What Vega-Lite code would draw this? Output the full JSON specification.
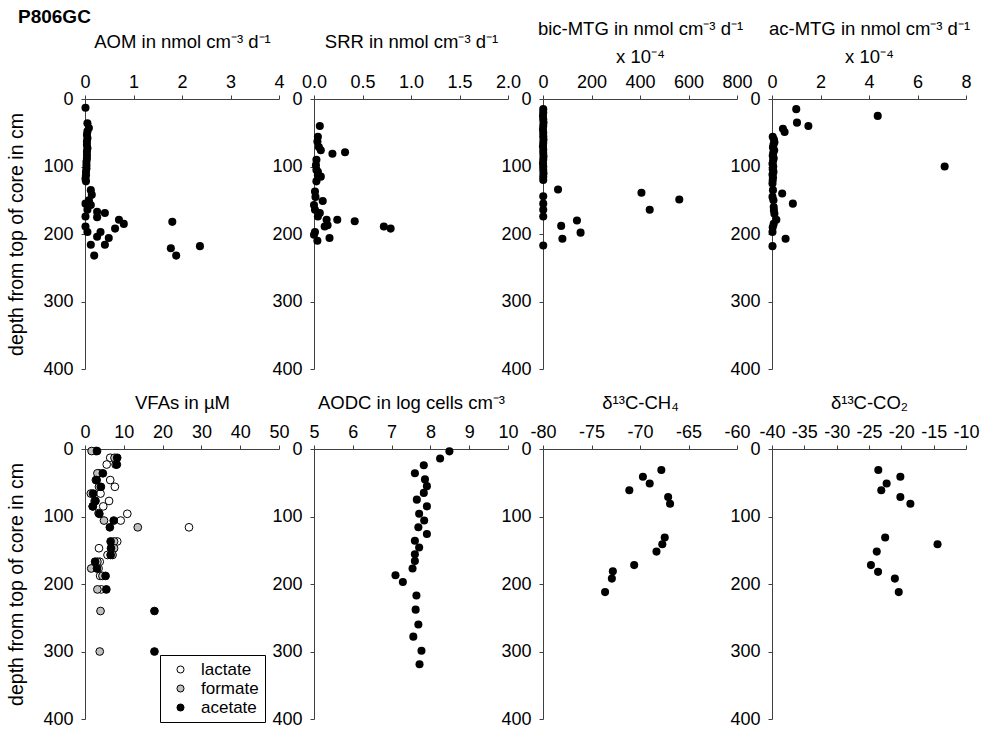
{
"$schema": "https://vega.github.io/schema/vega-lite/v6.json",
"padding": {"left": 6, "top": 8, "right": 5, "bottom": 5},
"title": {"text": "P806GC", "anchor": "start", "frame": "group", "dx": -67, "offset": -8, "fontSize": 19, "fontWeight": "bold", "font": "Liberation Sans", "color": "#000"},
"datasets": {
"aom": [{"d":13,"v":0.01},{"d":36,"v":0.05},{"d":43,"v":0.08},{"d":48,"v":0.05},{"d":53,"v":0.04},{"d":58,"v":0.05},{"d":63,"v":0.04},{"d":68,"v":0.04},{"d":73,"v":0.05},{"d":78,"v":0.04},{"d":83,"v":0.04},{"d":88,"v":0.04},{"d":93,"v":0.03},{"d":98,"v":0.03},{"d":103,"v":0.03},{"d":108,"v":0.02},{"d":113,"v":0.02},{"d":118,"v":0.01},{"d":122,"v":0.02},{"d":135,"v":0.12},{"d":142,"v":0.14},{"d":150,"v":0.08},{"d":155,"v":0.01},{"d":157,"v":0.12},{"d":164,"v":0.05},{"d":167,"v":0.25},{"d":169,"v":0.41},{"d":174,"v":0.01},{"d":175,"v":0.25},{"d":179,"v":0.70},{"d":185,"v":0.80},{"d":192,"v":0.62},{"d":189,"v":0.01},{"d":197,"v":0.05},{"d":197,"v":0.32},{"d":204,"v":0.25},{"d":206,"v":0.49},{"d":216,"v":0.12},{"d":216,"v":0.41},{"d":232,"v":0.19},{"d":182,"v":1.80},{"d":221,"v":1.77},{"d":218,"v":2.37},{"d":232,"v":1.88}],
"srr": [{"d":40,"v":0.06},{"d":56,"v":0.04},{"d":63,"v":0.035},{"d":71,"v":0.05},{"d":76,"v":0.07},{"d":81,"v":0.19},{"d":79,"v":0.32},{"d":90,"v":0.025},{"d":98,"v":0.02},{"d":105,"v":0.025},{"d":108,"v":0.04},{"d":113,"v":0.04},{"d":115,"v":0.07},{"d":122,"v":0.025},{"d":137,"v":0.01},{"d":145,"v":0.015},{"d":151,"v":0.09},{"d":157,"v":0.0},{"d":164,"v":0.01},{"d":169,"v":0.06},{"d":174,"v":0.04},{"d":179,"v":0.13},{"d":179,"v":0.24},{"d":181,"v":0.42},{"d":187,"v":0.14},{"d":189,"v":0.11},{"d":189,"v":0.72},{"d":192,"v":0.79},{"d":197,"v":0.01},{"d":201,"v":0.0},{"d":206,"v":0.16},{"d":210,"v":0.035}],
"bic": [{"d":15,"v":1},{"d":20,"v":1},{"d":25,"v":0},{"d":30,"v":1},{"d":35,"v":2},{"d":40,"v":1},{"d":45,"v":0},{"d":50,"v":1},{"d":55,"v":1},{"d":60,"v":2},{"d":65,"v":1},{"d":70,"v":0},{"d":75,"v":1},{"d":80,"v":1},{"d":85,"v":2},{"d":90,"v":1},{"d":95,"v":0},{"d":100,"v":1},{"d":105,"v":1},{"d":110,"v":2},{"d":115,"v":1},{"d":120,"v":1},{"d":134,"v":62},{"d":144,"v":1},{"d":155,"v":1},{"d":164,"v":1},{"d":174,"v":1},{"d":139,"v":406},{"d":149,"v":562},{"d":164,"v":440},{"d":180,"v":140},{"d":188,"v":75},{"d":198,"v":155},{"d":207,"v":80},{"d":217,"v":1}],
"ac": [{"d":15,"v":1.0},{"d":25,"v":4.36},{"d":35,"v":1.03},{"d":40,"v":1.5},{"d":44,"v":0.45},{"d":49,"v":0.52},{"d":56,"v":0.03},{"d":60,"v":0.08},{"d":64,"v":0.1},{"d":68,"v":0.06},{"d":72,"v":0.04},{"d":76,"v":0.09},{"d":80,"v":0.05},{"d":84,"v":0.03},{"d":88,"v":0.07},{"d":92,"v":0.04},{"d":96,"v":0.02},{"d":100,"v":0.05},{"d":104,"v":0.03},{"d":108,"v":0.06},{"d":112,"v":0.02},{"d":116,"v":0.04},{"d":120,"v":0.03},{"d":125,"v":0.02},{"d":100,"v":7.12},{"d":135,"v":0.04},{"d":140,"v":0.42},{"d":145,"v":0.02},{"d":150,"v":0.06},{"d":155,"v":0.86},{"d":160,"v":0.07},{"d":165,"v":0.08},{"d":170,"v":0.1},{"d":179,"v":0.18},{"d":185,"v":0.07},{"d":190,"v":0.03},{"d":197,"v":0.02},{"d":207,"v":0.56},{"d":218,"v":0.02}],
"vfa": [{"s":"lactate","d":3,"v":2.8},{"s":"lactate","d":13,"v":6.5},{"s":"lactate","d":23,"v":5.6},{"s":"lactate","d":36,"v":3.6},{"s":"lactate","d":46,"v":6.5},{"s":"lactate","d":56,"v":7.7},{"s":"lactate","d":66,"v":4.0},{"s":"lactate","d":77,"v":6.2},{"s":"lactate","d":85,"v":4.7},{"s":"lactate","d":96,"v":10.9},{"s":"lactate","d":106,"v":9.2},{"s":"lactate","d":116,"v":26.8},{"s":"lactate","d":137,"v":8.3},{"s":"lactate","d":147,"v":3.6},{"s":"lactate","d":157,"v":5.8},{"s":"lactate","d":167,"v":3.8},{"s":"lactate","d":177,"v":3.5},{"s":"lactate","d":188,"v":3.9},{"s":"lactate","d":208,"v":4.2},
{"s":"formate","d":3,"v":1.7},{"s":"formate","d":13,"v":7.6},{"s":"formate","d":23,"v":7.9},{"s":"formate","d":36,"v":3.2},{"s":"formate","d":46,"v":2.8},{"s":"formate","d":56,"v":3.6},{"s":"formate","d":66,"v":1.5},{"s":"formate","d":77,"v":2.5},{"s":"formate","d":85,"v":2.0},{"s":"formate","d":95,"v":3.5},{"s":"formate","d":106,"v":4.9},{"s":"formate","d":116,"v":13.6},{"s":"formate","d":137,"v":7.5},{"s":"formate","d":147,"v":7.5},{"s":"formate","d":157,"v":7.1},{"s":"formate","d":167,"v":3.2},{"s":"formate","d":177,"v":1.6},{"s":"formate","d":188,"v":4.5},{"s":"formate","d":208,"v":3.2},{"s":"formate","d":240,"v":4.0},{"s":"formate","d":300,"v":3.8},
{"s":"acetate","d":3,"v":3.1},{"s":"acetate","d":13,"v":8.3},{"s":"acetate","d":23,"v":8.2},{"s":"acetate","d":36,"v":4.6},{"s":"acetate","d":46,"v":3.0},{"s":"acetate","d":56,"v":4.1},{"s":"acetate","d":66,"v":2.1},{"s":"acetate","d":77,"v":2.7},{"s":"acetate","d":85,"v":2.0},{"s":"acetate","d":96,"v":3.7},{"s":"acetate","d":106,"v":7.4},{"s":"acetate","d":116,"v":6.4},{"s":"acetate","d":137,"v":6.6},{"s":"acetate","d":147,"v":6.7},{"s":"acetate","d":157,"v":6.6},{"s":"acetate","d":167,"v":2.6},{"s":"acetate","d":177,"v":3.1},{"s":"acetate","d":188,"v":5.3},{"s":"acetate","d":208,"v":5.5},{"s":"acetate","d":240,"v":17.9},{"s":"acetate","d":300,"v":17.9}],
"aodc": [{"d":3.5,"v":8.49},{"d":14,"v":8.25},{"d":24,"v":7.83},{"d":36,"v":7.6},{"d":45,"v":7.86},{"d":55,"v":7.91},{"d":65,"v":7.83},{"d":75,"v":7.65},{"d":85,"v":7.91},{"d":96,"v":7.71},{"d":106,"v":7.84},{"d":116,"v":7.69},{"d":126,"v":7.91},{"d":136,"v":7.6},{"d":146,"v":7.71},{"d":156,"v":7.6},{"d":166,"v":7.6},{"d":177,"v":7.54},{"d":187,"v":7.1},{"d":197,"v":7.29},{"d":217,"v":7.64},{"d":238,"v":7.62},{"d":260,"v":7.69},{"d":278,"v":7.56},{"d":299,"v":7.77},{"d":319,"v":7.72}],
"ch4": [{"d":31,"v":-67.8},{"d":41,"v":-69.7},{"d":51,"v":-69.0},{"d":61,"v":-71.1},{"d":71,"v":-67.1},{"d":81,"v":-66.9},{"d":131,"v":-67.45},{"d":141,"v":-67.7},{"d":152,"v":-68.3},{"d":172,"v":-70.6},{"d":181,"v":-72.8},{"d":192,"v":-72.9},{"d":212,"v":-73.6}],
"co2": [{"d":31,"v":-23.56},{"d":41,"v":-20.15},{"d":51,"v":-22.27},{"d":61,"v":-23.1},{"d":71,"v":-20.15},{"d":81,"v":-18.6},{"d":131,"v":-22.5},{"d":141,"v":-14.4},{"d":152,"v":-23.8},{"d":172,"v":-24.7},{"d":182,"v":-23.6},{"d":192,"v":-21.0},{"d":212,"v":-20.4}]
},
"concat": [
{"width": 194, "height": 270, "data": {"name": "aom"},
 "mark": {"type": "circle", "size": 65, "color": "#000", "opacity": 1},
 "encoding": {
  "x": {"field": "v", "type": "quantitative", "scale": {"domain": [0, 4], "nice": false, "zero": false}, "axis": {"orient": "top", "values": [0,1,2,3,4], "title": "AOM in nmol cm⁻³ d⁻¹", "titlePadding": 22}},
  "y": {"field": "d", "type": "quantitative", "scale": {"domain": [0, 400], "reverse": true, "nice": false}, "axis": {"values": [0,100,200,300,400], "title": "depth from top of core in cm", "titlePadding": 16, "titleFontSize": 19.5}}}},
{"width": 194, "height": 270, "data": {"name": "srr"},
 "mark": {"type": "circle", "size": 65, "color": "#000", "opacity": 1},
 "encoding": {
  "x": {"field": "v", "type": "quantitative", "scale": {"domain": [0, 2], "nice": false, "zero": false}, "axis": {"orient": "top", "values": [0,0.5,1,1.5,2], "format": ".1f", "title": "SRR in nmol cm⁻³ d⁻¹", "titlePadding": 22}},
  "y": {"field": "d", "type": "quantitative", "scale": {"domain": [0, 400], "reverse": true, "nice": false}, "axis": {"values": [0,100,200,300,400], "title": null}}}},
{"width": 194, "height": 270, "data": {"name": "bic"},
 "mark": {"type": "circle", "size": 65, "color": "#000", "opacity": 1},
 "encoding": {
  "x": {"field": "v", "type": "quantitative", "scale": {"domain": [0, 800], "nice": false, "zero": false}, "axis": {"orient": "top", "values": [0,200,400,600,800], "title": ["bic-MTG in nmol cm⁻³ d⁻¹", "x 10⁻⁴"], "titlePadding": 7, "titleLineHeight": 28}},
  "y": {"field": "d", "type": "quantitative", "scale": {"domain": [0, 400], "reverse": true, "nice": false}, "axis": {"values": [0,100,200,300,400], "title": null}}}},
{"width": 194, "height": 270, "data": {"name": "ac"},
 "mark": {"type": "circle", "size": 65, "color": "#000", "opacity": 1},
 "encoding": {
  "x": {"field": "v", "type": "quantitative", "scale": {"domain": [0, 8], "nice": false, "zero": false}, "axis": {"orient": "top", "values": [0,2,4,6,8], "title": ["ac-MTG in nmol cm⁻³ d⁻¹", "x 10⁻⁴"], "titlePadding": 7, "titleLineHeight": 28}},
  "y": {"field": "d", "type": "quantitative", "scale": {"domain": [0, 400], "reverse": true, "nice": false}, "axis": {"values": [0,100,200,300,400], "title": null}}}},
{"width": 194, "height": 270, "data": {"name": "vfa"},
 "mark": {"type": "circle", "size": 60, "stroke": "#000", "strokeWidth": 1, "opacity": 1},
 "encoding": {
  "x": {"field": "v", "type": "quantitative", "scale": {"domain": [0, 50], "nice": false, "zero": false}, "axis": {"orient": "top", "values": [0,10,20,30,40,50], "title": "VFAs in µM", "titlePadding": 11}},
  "y": {"field": "d", "type": "quantitative", "scale": {"domain": [0, 400], "reverse": true, "nice": false}, "axis": {"values": [0,100,200,300,400], "title": "depth from top of core in cm", "titlePadding": 16, "titleFontSize": 19.5}},
  "fill": {"field": "s", "type": "nominal", "scale": {"domain": ["lactate", "formate", "acetate"], "range": ["#ffffff", "#c0c0c0", "#000000"]},
   "legend": {"orient": "none", "legendX": 75, "legendY": 206, "title": null, "strokeColor": "#000", "fillColor": "#fff", "padding": 6, "symbolOffset": 6, "labelOffset": 12, "labelFontSize": 17, "labelFont": "Liberation Sans", "labelColor": "#000", "symbolSize": 50, "symbolType": "circle", "symbolStrokeColor": "#000", "symbolStrokeWidth": 1, "rowPadding": 1, "cornerRadius": 0}}}},
{"width": 194, "height": 270, "data": {"name": "aodc"},
 "mark": {"type": "circle", "size": 65, "color": "#000", "opacity": 1},
 "encoding": {
  "x": {"field": "v", "type": "quantitative", "scale": {"domain": [5, 10], "nice": false, "zero": false}, "axis": {"orient": "top", "values": [5,6,7,8,9,10], "title": "AODC in log cells cm⁻³", "titlePadding": 11}},
  "y": {"field": "d", "type": "quantitative", "scale": {"domain": [0, 400], "reverse": true, "nice": false}, "axis": {"values": [0,100,200,300,400], "title": null}}}},
{"width": 194, "height": 270, "data": {"name": "ch4"},
 "mark": {"type": "circle", "size": 65, "color": "#000", "opacity": 1},
 "encoding": {
  "x": {"field": "v", "type": "quantitative", "scale": {"domain": [-80, -60], "nice": false, "zero": false}, "axis": {"orient": "top", "values": [-80,-75,-70,-65,-60], "labelExpr": "replace(datum.label, '\u2212', '-')", "title": "δ¹³C-CH₄", "titlePadding": 11}},
  "y": {"field": "d", "type": "quantitative", "scale": {"domain": [0, 400], "reverse": true, "nice": false}, "axis": {"values": [0,100,200,300,400], "title": null}}}},
{"width": 194, "height": 270, "data": {"name": "co2"},
 "mark": {"type": "circle", "size": 65, "color": "#000", "opacity": 1},
 "encoding": {
  "x": {"field": "v", "type": "quantitative", "scale": {"domain": [-40, -10], "nice": false, "zero": false}, "axis": {"orient": "top", "values": [-40,-35,-30,-25,-20,-15,-10], "labelExpr": "replace(datum.label, '\u2212', '-')", "title": "δ¹³C-CO₂", "titlePadding": 11}},
  "y": {"field": "d", "type": "quantitative", "scale": {"domain": [0, 400], "reverse": true, "nice": false}, "axis": {"values": [0,100,200,300,400], "title": null}}}}
],
"columns": 4,
"spacing": {"row": 80, "column": 35},
"bounds": "flush",
"resolve": {"scale": {"x": "independent", "y": "independent", "fill": "independent"}, "legend": {"fill": "independent"}},
"config": {
 "font": "Liberation Sans",
 "view": {"stroke": null},
 "axis": {"grid": false, "labelFontSize": 18, "titleFontSize": 18.5, "titleFontWeight": "normal", "labelColor": "#000", "titleColor": "#000", "domainColor": "#404040", "tickColor": "#404040", "tickSize": 4, "labelFlush": false, "labelOverlap": false, "labelFont": "Liberation Sans", "titleFont": "Liberation Sans"},
 "axisX": {"labelPadding": 4},
 "axisY": {"labelPadding": 8}
}
}
